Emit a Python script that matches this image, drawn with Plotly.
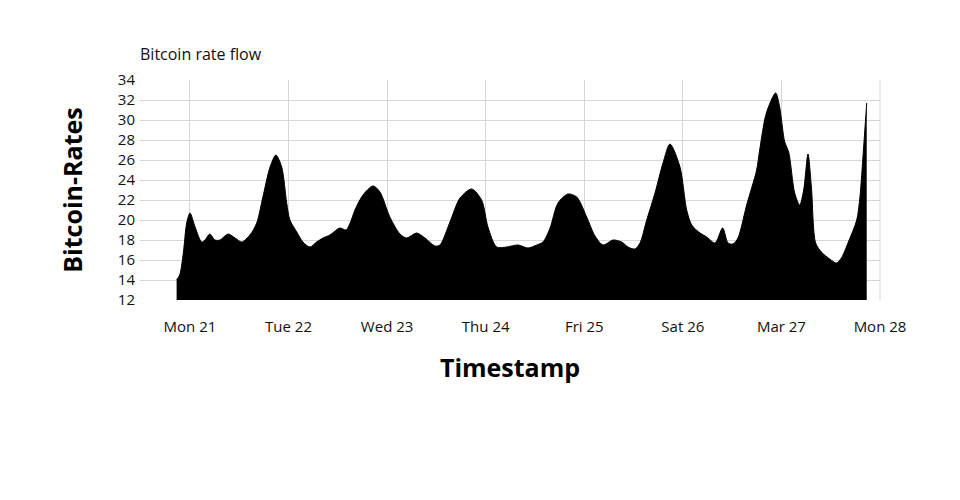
import plotly.graph_objects as go

timestamps = [
    "2016-03-20 20:45", "2016-03-20 21:30", "2016-03-20 22:23", "2016-03-20 23:12",
    "2016-03-21 00:00", "2016-03-21 01:15", "2016-03-21 02:50", "2016-03-21 03:40",
    "2016-03-21 04:50", "2016-03-21 06:05", "2016-03-21 07:20", "2016-03-21 09:15",
    "2016-03-21 11:00", "2016-03-21 12:35", "2016-03-21 14:36", "2016-03-21 16:15",
    "2016-03-21 17:45", "2016-03-21 19:30", "2016-03-21 20:55", "2016-03-21 22:20",
    "2016-03-21 23:33", "2016-03-22 00:20", "2016-03-22 02:00", "2016-03-22 03:30",
    "2016-03-22 05:13", "2016-03-22 06:50", "2016-03-22 08:23", "2016-03-22 10:05",
    "2016-03-22 12:30", "2016-03-22 14:00", "2016-03-22 15:00", "2016-03-22 16:10",
    "2016-03-22 18:07", "2016-03-22 20:35", "2016-03-22 22:15", "2016-03-23 00:40",
    "2016-03-23 03:08", "2016-03-23 04:45", "2016-03-23 07:10", "2016-03-23 09:13",
    "2016-03-23 11:40", "2016-03-23 12:52", "2016-03-23 15:18", "2016-03-23 17:45",
    "2016-03-23 20:35", "2016-03-23 23:00", "2016-03-24 00:33", "2016-03-24 02:40",
    "2016-03-24 05:07", "2016-03-24 07:52", "2016-03-24 10:18", "2016-03-24 12:25",
    "2016-03-24 13:57", "2016-03-24 15:40", "2016-03-24 17:36", "2016-03-24 20:02",
    "2016-03-24 22:10", "2016-03-25 00:35", "2016-03-25 02:37", "2016-03-25 04:34",
    "2016-03-25 07:00", "2016-03-25 09:07", "2016-03-25 10:39", "2016-03-25 12:21",
    "2016-03-25 13:34", "2016-03-25 15:12", "2016-03-25 17:13", "2016-03-25 19:10",
    "2016-03-25 20:52", "2016-03-25 23:18", "2016-03-26 00:56", "2016-03-26 02:10",
    "2016-03-26 04:11", "2016-03-26 05:49", "2016-03-26 07:50", "2016-03-26 09:42",
    "2016-03-26 11:00", "2016-03-26 12:13", "2016-03-26 13:25", "2016-03-26 15:32",
    "2016-03-26 17:58", "2016-03-26 18:42", "2016-03-26 20:20", "2016-03-26 22:36",
    "2016-03-26 23:34", "2016-03-27 00:48", "2016-03-27 01:46", "2016-03-27 03:14",
    "2016-03-27 04:27", "2016-03-27 05:25", "2016-03-27 06:28", "2016-03-27 07:18",
    "2016-03-27 08:20", "2016-03-27 09:44", "2016-03-27 11:45", "2016-03-27 13:23",
    "2016-03-27 14:36", "2016-03-27 16:18", "2016-03-27 18:20", "2016-03-27 19:07",
    "2016-03-27 19:55", "2016-03-27 20:46",
]
rates = [
    14.0, 14.5, 16.7, 19.7,
    20.7, 19.3, 17.8, 18.0,
    18.6, 18.0, 18.0, 18.6,
    18.2, 17.8, 18.5, 19.7,
    22.3, 25.3, 26.5, 25.3,
    21.7, 20.0, 18.8, 17.8,
    17.3, 17.8, 18.2, 18.5,
    19.2, 19.0, 19.7, 21.0,
    22.5, 23.4, 22.8, 20.3,
    18.6, 18.2, 18.7, 18.2,
    17.4, 17.5, 19.8, 22.2,
    23.1, 22.0, 19.3, 17.3,
    17.3, 17.5, 17.2, 17.5,
    17.8, 19.2, 21.7, 22.6,
    22.3, 20.3, 18.4, 17.5,
    18.0, 17.8, 17.3, 17.1,
    17.7, 20.0, 22.7, 25.7,
    27.6, 25.3, 21.0, 19.5,
    18.7, 18.3, 17.7, 19.2,
    17.7, 17.6, 18.2, 21.5,
    25.0, 27.0, 30.7, 32.7,
    31.3, 27.8, 26.8, 22.7,
    21.5, 23.0, 26.6, 23.3,
    17.7, 16.8, 16.1, 15.7,
    16.2, 17.8, 20.0, 22.3,
    26.7, 31.7,
]

tick_dates = ["2016-03-21", "2016-03-22", "2016-03-23", "2016-03-24",
              "2016-03-25", "2016-03-26", "2016-03-27", "2016-03-28"]
tick_labels = ["Mon 21", "Tue 22", "Wed 23", "Thu 24", "Fri 25", "Sat 26", "Mar 27", "Mon 28"]
y_ticks = [12, 14, 16, 18, 20, 22, 24, 26, 28, 30, 32, 34]

font = "Open Sans"
grid = "#d6d6d6"

fig = go.Figure()
fig.add_trace(go.Scatter(
    x=timestamps, y=rates, mode="lines",
    line=dict(color="black", width=1, shape="spline", smoothing=0.8),
    fill="tozeroy", fillcolor="black",
    hoverinfo="x+y", showlegend=False,
))

# right border of the plot area
fig.add_shape(type="line", xref="paper", yref="paper", x0=1, x1=1, y0=0, y1=1,
              line=dict(color=grid, width=1), layer="below")

fig.update_layout(
    width=960, height=500,
    margin=dict(l=132, r=88, t=72, b=208, autoexpand=False),
    paper_bgcolor="white", plot_bgcolor="white",
    font=dict(family=font, size=15, color="#111"),
    title=dict(text="Bitcoin rate flow", x=132 / 960, xref="container", xanchor="left",
               y=1 - 46 / 500, yref="container", yanchor="middle",
               font=dict(family=font, size=16, color="#111")),
    xaxis=dict(
        range=["2016-03-20 11:50", "2016-03-28 00:00"],
        tickvals=tick_dates, ticktext=tick_labels, automargin=False,
        showgrid=True, gridcolor=grid, gridwidth=1,
        zeroline=False, showline=False, ticks="", ticklabelstandoff=16,
        tickfont=dict(family=font, size=15, color="#111"),
        title=dict(text="<b>Timestamp</b>", standoff=24,
                   font=dict(family=font, size=25, color="#000")),
    ),
    yaxis=dict(
        range=[12, 34], tickvals=y_ticks, automargin=False,
        showgrid=True, gridcolor=grid, gridwidth=1,
        zeroline=False, showline=False, ticks="", ticklabelstandoff=4,
        tickfont=dict(family=font, size=15, color="#111"),
        title=dict(text="<b>Bitcoin-Rates</b>", standoff=28,
                   font=dict(family=font, size=25, color="#000")),
    ),
)

fig.write_html("out.html")
